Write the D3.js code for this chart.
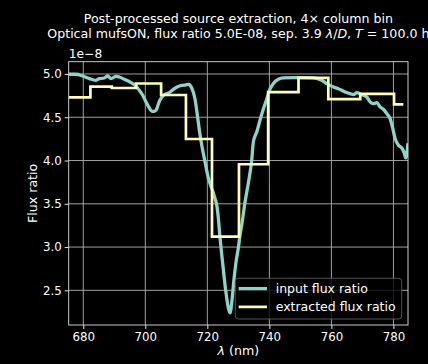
<!DOCTYPE html>
<html>
<head>
<meta charset="utf-8">
<script src="https://cdn.jsdelivr.net/npm/d3@7"></script>
<style>
  html, body { margin: 0; padding: 0; background: #000; }
  svg { display: block; font-family: "DejaVu Sans", sans-serif; }
</style>
</head>
<body>
<svg id="chart" width="428" height="364"></svg>
<script>
// Input (true) companion flux ratio spectrum
const inputWavelength = [
  675.3, 677.65, 679.81, 681.94, 684.10, 685.16, 686.77, 687.87, 688.94, 690.55,
  691.61, 693.23, 695.39, 697.00, 698.06, 699.16, 700.23, 701.10, 702.16, 702.90,
  703.68, 704.10, 704.74, 706.03, 707.74, 709.35, 710.97, 712.58, 713.87, 714.97,
  716.03, 716.77, 717.42, 718.19, 719.26, 720.32, 721.42, 721.94, 722.48, 723.03,
  723.45, 724.10, 724.97, 725.94, 726.77, 727.32, 727.97, 728.61, 729.26, 730.00,
  730.55, 731.10, 732.16, 733.23, 734.32, 734.84, 735.94, 737.00, 738.06, 739.16,
  740.23, 741.29, 742.90, 744.52, 747.74, 750.97, 754.19, 756.90, 758.52, 760.65,
  762.26, 764.42, 766.03, 767.10, 768.19, 769.81, 771.42, 772.48, 773.55, 774.65,
  775.71, 776.77, 777.87, 778.94, 779.81, 780.55, 781.61, 782.71, 783.45, 784.00,
  784.52, 784.7
];
const inputFlux = [
  4.997e-8, 4.997e-8, 4.977e-8, 4.946e-8, 4.927e-8, 4.946e-8, 4.954e-8, 4.977e-8, 4.946e-8, 4.973e-8,
  4.965e-8, 4.939e-8, 4.900e-8, 4.861e-8, 4.812e-8, 4.754e-8, 4.677e-8, 4.619e-8, 4.569e-8, 4.569e-8,
  4.596e-8, 4.642e-8, 4.700e-8, 4.758e-8, 4.784e-8, 4.830e-8, 4.861e-8, 4.870e-8, 4.879e-8, 4.838e-8,
  4.711e-8, 4.527e-8, 4.353e-8, 4.180e-8, 3.984e-8, 3.799e-8, 3.676e-8, 3.626e-8, 3.560e-8, 3.487e-8,
  3.372e-8, 3.106e-8, 2.806e-8, 2.494e-8, 2.298e-8, 2.240e-8, 2.390e-8, 2.633e-8, 2.829e-8, 2.991e-8,
  3.141e-8, 3.256e-8, 3.522e-8, 3.741e-8, 4.007e-8, 4.215e-8, 4.330e-8, 4.469e-8, 4.596e-8, 4.711e-8,
  4.827e-8, 4.890e-8, 4.939e-8, 4.954e-8, 4.957e-8, 4.957e-8, 4.954e-8, 4.927e-8, 4.888e-8, 4.850e-8,
  4.830e-8, 4.792e-8, 4.773e-8, 4.761e-8, 4.784e-8, 4.761e-8, 4.734e-8, 4.677e-8, 4.657e-8, 4.669e-8,
  4.619e-8, 4.592e-8, 4.542e-8, 4.484e-8, 4.368e-8, 4.253e-8, 4.177e-8, 4.145e-8, 4.091e-8, 4.030e-8,
  4.137e-8, 4.200e-8
];

// Extracted flux ratio per spectral bin (left edges, plus the final right edge)
const binEdges = [675.3, 682.3, 689.2, 697.0, 705.1, 713.1, 721.5, 730.2, 739.6, 749.4, 759.0, 769.3, 780.2, 783.2];
const extractedFlux = [4.73e-8, 4.853e-8, 4.838e-8, 4.89e-8, 4.757e-8, 4.249e-8, 3.12e-8, 3.957e-8, 4.79e-8, 4.954e-8, 4.71e-8, 4.77e-8, 4.65e-8];

const xTicks = [680, 700, 720, 740, 760, 780];
const yTicks = [2.5e-8, 3.0e-8, 3.5e-8, 4.0e-8, 4.5e-8, 5.0e-8];
const yOffsetLabel = "1e\u22128";

const seriesNames = ["input flux ratio", "extracted flux ratio"];
const seriesColors = ["#8dd3c7", "#feffb3"];

const svg = d3.select("#chart");
const W = 428, H = 364;
const plot = { left: 68.7, right: 408, top: 61.7, bottom: 325 };

const x = d3.scaleLinear().domain([675.3, 784.7]).range([plot.left, plot.right]);
const y = d3.scaleLinear().domain([2.0995e-8, 5.142e-8]).range([plot.bottom, plot.top]);

svg.append("rect").attr("width", W).attr("height", H).attr("fill", "#000");

svg.append("defs").append("clipPath").attr("id", "plotClip")
  .append("rect")
  .attr("x", plot.left).attr("y", plot.top)
  .attr("width", plot.right - plot.left).attr("height", plot.bottom - plot.top);

// Grid
const grid = svg.append("g").attr("stroke", "#b0b0b0").attr("stroke-width", 0.9);
grid.selectAll("line.gx").data(xTicks).join("line")
  .attr("x1", d => x(d)).attr("x2", d => x(d))
  .attr("y1", plot.top).attr("y2", plot.bottom);
grid.selectAll("line.gy").data(yTicks).join("line")
  .attr("x1", plot.left).attr("x2", plot.right)
  .attr("y1", d => y(d)).attr("y2", d => y(d));

// Series
const lines = svg.append("g").attr("clip-path", "url(#plotClip)");

const inputPts = inputWavelength.map((w, i) => [w, inputFlux[i]]);
lines.append("path")
  .datum(inputPts)
  .attr("fill", "none")
  .attr("stroke", seriesColors[0])
  .attr("stroke-width", 3.3)
  .attr("stroke-linejoin", "round")
  .attr("d", d3.line().x(d => x(d[0])).y(d => y(d[1])).curve(d3.curveMonotoneX));

const stepPts = binEdges.map((e, i) => [e, extractedFlux[Math.min(i, extractedFlux.length - 1)]]);
lines.append("path")
  .datum(stepPts)
  .attr("fill", "none")
  .attr("stroke", seriesColors[1])
  .attr("stroke-width", 2.7)
  .attr("d", d3.line().x(d => x(d[0])).y(d => y(d[1])).curve(d3.curveStepAfter));

// Axes
const xAxis = d3.axisBottom(x).tickValues(xTicks).tickSize(4).tickPadding(4).tickFormat(d3.format("d"));
const yAxis = d3.axisLeft(y).tickValues(yTicks).tickSize(4).tickPadding(3).tickFormat(d => (d / 1e-8).toFixed(1));

const gx = svg.append("g").attr("transform", `translate(0,${plot.bottom})`).call(xAxis);
const gy = svg.append("g").attr("transform", `translate(${plot.left},0)`).call(yAxis);
[gx, gy].forEach(g => {
  g.select(".domain").remove();
  g.selectAll(".tick line").attr("stroke", "#fff").attr("stroke-width", 0.9);
  g.selectAll(".tick text").attr("fill", "#fff").attr("font-size", "11.8px")
    .attr("font-family", "DejaVu Sans, sans-serif");
});

// Frame
svg.append("rect")
  .attr("x", plot.left).attr("y", plot.top)
  .attr("width", plot.right - plot.left).attr("height", plot.bottom - plot.top)
  .attr("fill", "none").attr("stroke", "#dddddd").attr("stroke-width", 0.9);

// Offset label
svg.append("text").attr("x", plot.left).attr("y", 58.3)
  .attr("fill", "#fff").attr("font-size", "12.3px").text(yOffsetLabel);

// Axis labels
const xl = svg.append("text").attr("x", (plot.left + plot.right) / 2).attr("y", 354.5)
  .attr("text-anchor", "middle").attr("fill", "#fff").attr("font-size", "12.6px");
xl.append("tspan").attr("font-style", "italic").text("\u03bb");
xl.append("tspan").text(" (nm)");

svg.append("text")
  .attr("transform", `translate(36.7,${(plot.top + plot.bottom) / 2}) rotate(-90)`)
  .attr("text-anchor", "middle").attr("fill", "#fff").attr("font-size", "12.6px")
  .text("Flux ratio");

// Title
const cx = (plot.left + plot.right) / 2;
svg.append("text").attr("x", cx).attr("y", 23.3).attr("text-anchor", "middle")
  .attr("fill", "#fff").attr("font-size", "12.6px")
  .text("Post-processed source extraction, 4\u00d7 column bin");
const t2 = svg.append("text").attr("x", cx).attr("y", 38).attr("text-anchor", "middle")
  .attr("fill", "#fff").attr("font-size", "12.6px");
t2.append("tspan").text("Optical mufsON, flux ratio 5.0E-08, sep. 3.9 ");
t2.append("tspan").attr("font-style", "italic").text("\u03bb");
t2.append("tspan").text("/");
t2.append("tspan").attr("font-style", "italic").text("D");
t2.append("tspan").text(", ");
t2.append("tspan").attr("font-style", "italic").text("T");
t2.append("tspan").text(" = 100.0 h");

// Legend
const lg = svg.append("g");
lg.append("rect")
  .attr("x", 235.3).attr("y", 278.3).attr("width", 166.4).attr("height", 40.7)
  .attr("rx", 3).attr("fill", "rgba(0,0,0,0.8)").attr("stroke", "#5a5a5a").attr("stroke-width", 0.9);
const rowY = [288.6, 306.9];
seriesNames.forEach((name, i) => {
  lg.append("line").attr("x1", 238.7).attr("x2", 267).attr("y1", rowY[i]).attr("y2", rowY[i])
    .attr("stroke", seriesColors[i]).attr("stroke-width", i === 0 ? 3.3 : 2.7);
  lg.append("text").attr("x", 275.7).attr("y", rowY[i] + 4.5)
    .attr("fill", "#fff").attr("font-size", "12.5px").text(name);
});
</script>
</body>
</html>
